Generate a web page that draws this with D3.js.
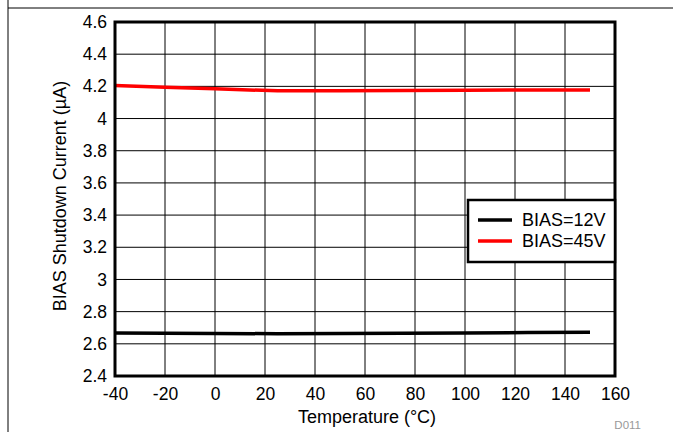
<!DOCTYPE html>
<html><head><meta charset="utf-8">
<script src="https://cdn.jsdelivr.net/npm/d3@7"></script>
<style>body{margin:0;background:#fff}svg{display:block}text{font-family:"Liberation Sans",Arial,sans-serif}</style>
</head><body><svg id="c" width="673" height="432"></svg>
<script>
const temps = [-40, -20, 0, 25, 50, 75, 100, 125, 150];
const bias12 = [2.667, 2.665, 2.664, 2.663, 2.664, 2.666, 2.668, 2.670, 2.672];
const bias45 = [4.205, 4.195, 4.185, 4.172, 4.172, 4.174, 4.176, 4.178, 4.177];
const xTicks = [-40, -20, 0, 20, 40, 60, 80, 100, 120, 140, 160];
const yTicks = [2.4, 2.6, 2.8, 3, 3.2, 3.4, 3.6, 3.8, 4, 4.2, 4.4, 4.6];
const seriesNames = ["BIAS=12V", "BIAS=45V"];
const colors = ["#000000", "#ff0000"];

const FS = 17.5, FT = 18;
const svg = d3.select("#c");
const L = 115, R = 615, T = 22, B = 376;
const x = d3.scaleLinear().domain([-40, 160]).range([L, R]);
const y = d3.scaleLinear().domain([2.4, 4.6]).range([B, T]);

// outer frame
svg.append("line").attr("x1", 8).attr("x2", 673).attr("y1", 8).attr("y2", 8).attr("stroke", "#000").attr("stroke-width", 1);
svg.append("line").attr("x1", 8).attr("x2", 8).attr("y1", 0).attr("y2", 432).attr("stroke", "#000").attr("stroke-width", 1);

// grid
svg.append("g").selectAll("line").data(xTicks).join("line")
  .attr("x1", d => x(d)).attr("x2", d => x(d)).attr("y1", T).attr("y2", B)
  .attr("stroke", "#000").attr("stroke-width", 1);
svg.append("g").selectAll("line").data(yTicks).join("line")
  .attr("x1", L).attr("x2", R).attr("y1", d => y(d)).attr("y2", d => y(d))
  .attr("stroke", "#000").attr("stroke-width", 1);

// axes labels
const xAxis = d3.axisBottom(x).tickValues(xTicks).tickSize(0).tickPadding(12).tickFormat(d => String(d));
const gx = svg.append("g").attr("transform", `translate(0,${B})`).call(xAxis);
gx.select(".domain").remove();
gx.selectAll("text").attr("font-size", FS).attr("fill", "#000").attr("font-family", "Liberation Sans, Arial, sans-serif");
const yAxis = d3.axisLeft(y).tickValues(yTicks).tickSize(0).tickPadding(8).tickFormat(d => String(d));
const gy = svg.append("g").attr("transform", `translate(${L},0)`).call(yAxis);
gy.select(".domain").remove();
gy.selectAll("text").attr("font-size", FS).attr("fill", "#000").attr("font-family", "Liberation Sans, Arial, sans-serif");

// series
const line = d3.line().x((d, i) => x(temps[i])).y(d => y(d));
[bias12, bias45].forEach((s, k) => {
  svg.append("path").datum(s).attr("d", line).attr("fill", "none")
    .attr("stroke", colors[k]).attr("stroke-width", 3.5);
});

// plot border
svg.append("rect").attr("x", L).attr("y", T).attr("width", R - L).attr("height", B - T)
  .attr("fill", "none").attr("stroke", "#000").attr("stroke-width", 3);

// legend
const lg = svg.append("g");
lg.append("rect").attr("x", 468).attr("y", 200).attr("width", 147).attr("height", 62)
  .attr("fill", "#fff").attr("stroke", "#000").attr("stroke-width", 2.5);
seriesNames.forEach((n, i) => {
  const yy = 220 + i * 21;
  lg.append("line").attr("x1", 478).attr("x2", 512).attr("y1", yy).attr("y2", yy)
    .attr("stroke", colors[i]).attr("stroke-width", 3.5);
  lg.append("text").attr("x", 522).attr("y", yy + 6).attr("font-size", FT).text(n);
});

// axis titles
svg.append("text").attr("x", 367).attr("y", 423).attr("text-anchor", "middle")
  .attr("font-size", FT).text("Temperature (°C)");
svg.append("text").attr("transform", `translate(66,196) rotate(-90)`)
  .attr("text-anchor", "middle").attr("font-size", FT).text("BIAS Shutdown Current (µA)");
svg.append("text").attr("x", 641).attr("y", 429).attr("text-anchor", "end")
  .attr("font-size", 11.5).attr("fill", "#999").text("D011");
</script></body></html>
